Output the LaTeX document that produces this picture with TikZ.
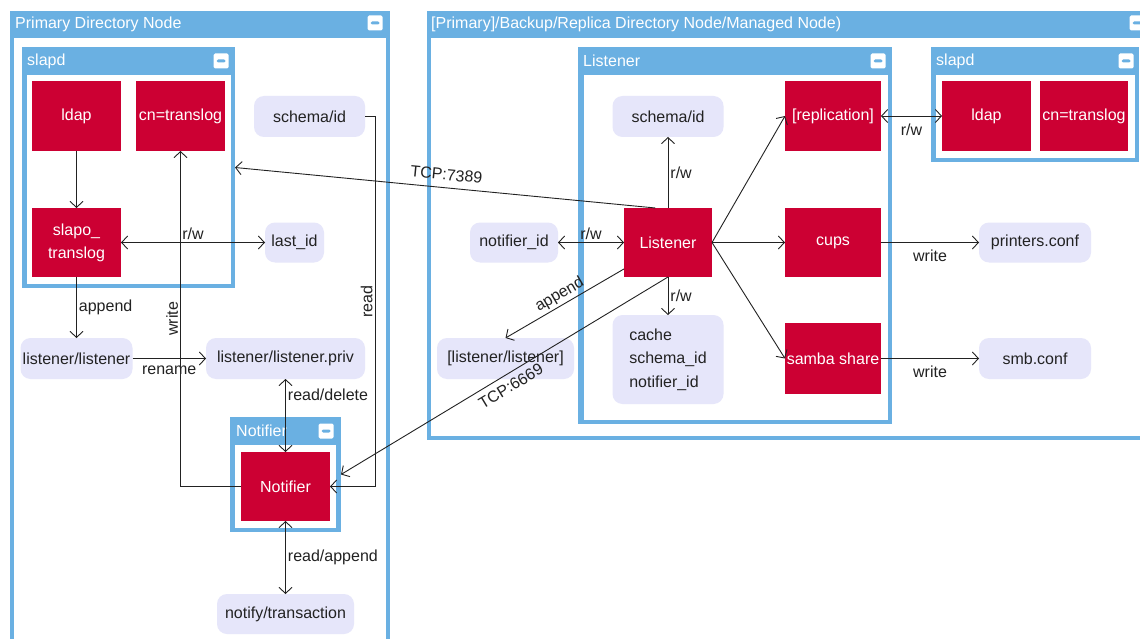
\documentclass[tikz,border=0pt]{standalone}
\usepackage{fontspec}
\setmainfont{Liberation Sans}
\usetikzlibrary{arrows.meta}
\definecolor{paneblue}{HTML}{6AB0E2}
\definecolor{unitred}{HTML}{CC0033}
\definecolor{filelav}{HTML}{E6E6FA}
\definecolor{ink}{HTML}{222222}

\begin{document}
\begin{tikzpicture}[x=1pt, y=-1pt, font=\fontsize{16}{19}\selectfont,
  >={Straight Barb[length=6pt, width=13pt]},
  pane/.style={fill=paneblue, inner sep=0pt, outer sep=0pt},
  panetitle/.style={text=white, anchor=west, inner sep=0pt},
  minus/.style={fill=white, rounded corners=1.5pt, minimum size=15pt, inner sep=0pt,
    path picture={\fill[paneblue] ([xshift=3pt, yshift=-1.5pt]path picture bounding box.west) rectangle ([xshift=-3pt, yshift=1.5pt]path picture bounding box.east);}},
  unit/.style={fill=unitred, text=white, inner sep=1pt, outer sep=0pt, align=center,
    minimum width=89pt, minimum height=70pt, font=\fontsize{16}{23}\selectfont},
  file/.style={fill=filelav, text=ink, rounded corners=10pt, inner sep=2pt, outer sep=0pt,
    minimum height=41pt},
  flow/.style={draw=ink, line width=0.9pt, ->},
  both/.style={draw=ink, line width=0.9pt, <->},
  tag/.style={text=ink, inner sep=2pt}]
  \useasboundingbox (0,0) rectangle (1140,639);
  \clip (0,0) rectangle (1140,639);

  % Primary Directory Node
  \node[pane, minimum width=380pt, minimum height=649pt] (primary) at (200,335.5) {};
  \fill[white] (14,38) rectangle (386,660);
  \node[panetitle] (primaryT) at (15,24) {Primary Directory Node};
  \node[minus] (primaryM) at (375,23) {};

  \node[pane, minimum width=213pt, minimum height=241pt] (slapdA) at (128.5,167.5) {};
  \fill[white] (27,75) rectangle (231,284);
  \node[panetitle] (slapdAT) at (27,61) {slapd};
  \node[minus] (slapdAM) at (221,61) {};

  \node[unit] (ldapA) at (76.5,116) {ldap};
  \node[unit] (cnA) at (180.5,116) {cn=translog};
  \node[unit, minimum height=69pt] (slapo) at (76.5,242.5) {slapo\_\\translog};

  \node[file, minimum width=111pt] (schemaA) at (309.5,116.5) {schema/id};
  \node[file, minimum width=59pt, minimum height=40pt] (lastid) at (294.5,242.5) {last\_id};
  \node[file, minimum width=112pt] (lstA) at (76.5,358.5) {listener/listener};
  \node[file, minimum width=159pt] (lstpriv) at (285.5,358.5) {listener/listener.priv};

  \node[pane, minimum width=111pt, minimum height=115pt] (notifBox) at (285.5,474.5) {};
  \fill[white] (235,445) rectangle (336,528);
  \node[panetitle] (notifBoxT) at (236,431) {Notifier};
  \node[minus] (notifBoxM) at (326,431) {};
  \node[unit, minimum height=69pt] (notifA) at (285.5,486.5) {Notifier};
  \node[file, minimum width=137pt, minimum height=40pt] (trans) at (285.5,614) {notify/transaction};

  % Backup/Replica Directory Node
  \node[pane, minimum width=728pt, minimum height=429pt] (replica) at (791,225.5) {};
  \fill[white] (431,38) rectangle (1151,436);
  \node[panetitle] (replicaT) at (431,24) {[Primary]/Backup/Replica Directory Node/Managed Node)};
  \node[minus] (replicaM) at (1137,23) {};

  \node[pane, minimum width=314pt, minimum height=377pt] (lsnBox) at (735,235.5) {};
  \fill[white] (583.5,75) rectangle (887.5,420);
  \node[panetitle] (lsnBoxT) at (583,61) {Listener};
  \node[minus] (lsnBoxM) at (878,61) {};

  \node[pane, minimum width=208pt, minimum height=115pt] (slapdB) at (1035,104.5) {};
  \fill[white] (936,75) rectangle (1135,158);
  \node[panetitle] (slapdBT) at (936,61) {slapd};
  \node[minus] (slapdBM) at (1126,61) {};
  \node[unit] (ldapB) at (986.5,116) {ldap};
  \node[unit, minimum width=88pt] (cnB) at (1084,116) {cn=translog};

  \node[unit, minimum width=96pt] (repl) at (833,116) {[replication]};
  \node[unit, minimum width=88pt, minimum height=69pt] (lsnB) at (668,242.5) {Listener};
  \node[unit, minimum width=96pt, minimum height=69pt] (cups) at (833,242.5) {cups};
  \node[unit, minimum width=96pt, minimum height=71pt] (samba) at (833,358.5) {samba share};

  \node[file, minimum width=111pt] (schemaB) at (668,116.5) {schema/id};
  \node[file, minimum width=88pt, minimum height=40pt] (notifid) at (514,242.5) {notifier\_id};
  \node[file, minimum width=112pt, minimum height=40pt] (printers) at (1035,242.5) {printers.conf};
  \node[file, minimum width=112pt] (smb) at (1035,358.5) {smb.conf};
  \node[file, minimum width=111pt, minimum height=89pt, align=left, font=\fontsize{16}{23.5}\selectfont] (cache) at (668,359.5) {cache\\schema\_id\\notifier\_id};
  \node[file, minimum width=137pt] (lstB) at (505.5,358.5) {[listener/listener]};

  % connectors
  \draw[flow] (ldapA) -- (slapo);
  \draw[both] (slapo) -- node[tag, above] (rwA) {r/w} (lastid);
  \draw[flow] (notifA.west) -| node[tag, pos=0.75, rotate=90, above] (wrA) {write} (cnA.south);
  \draw[flow] (schemaA.east) -- ++(10,0) |- node[tag, pos=0.25, rotate=90, above] (rdA) {read} (notifA.east);
  \draw[flow] (slapo) -- node[tag, right] (apA) {append} (lstA);
  \draw[flow] (lstA) -- node[tag, below=5pt] (rnA) {rename} (lstpriv);
  \draw[both] (lstpriv) -- node[tag, pos=0.22, right] (rdlA) {read/delete} (notifA);
  \draw[both] (notifA) -- node[tag, right] (raA) {read/append} (trans);

  \draw[flow] (lsnB.110) -- node[tag, sloped, above=5pt] (tcpA) {TCP:7389} (slapdA.east);
  \draw[flow] (lsnB.south) -- node[tag, sloped, below=4pt] (tcpB) {TCP:6669} (notifBox.east);
  \draw[flow] (lsnB.211) -- node[tag, sloped, above] (apB) {append} (lstB.north);
  \draw[both] (notifid) -- node[tag, above] (rwB) {r/w} (lsnB);
  \draw[flow] (lsnB) -- node[tag, right] (rwC) {r/w} (schemaB);
  \draw[flow] (lsnB) -- node[tag, right] (rwD) {r/w} (cache);
  \draw[flow] (lsnB.east) -- (repl.west);
  \draw[flow] (lsnB.east) -- (cups.west);
  \draw[flow] (lsnB.east) -- (samba.west);
  \draw[both] (repl) -- node[tag, below=5pt] (rwE) {r/w} (ldapB);
  \draw[flow] (cups) -- node[tag, below=5pt] (wrB) {write} (printers);
  \draw[flow] (samba) -- node[tag, below=5pt] (wrC) {write} (smb);
\end{tikzpicture}
\end{document}
